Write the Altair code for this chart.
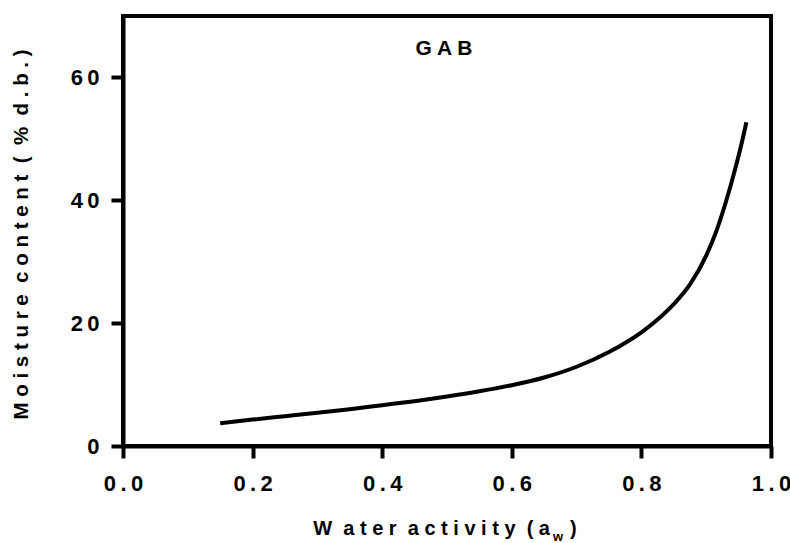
import altair as alt
import pandas as pd

# Data (GAB isotherm)
water_activity = [0.15, 0.2, 0.25, 0.3, 0.35, 0.4, 0.45, 0.5, 0.55, 0.6, 0.65,
                  0.7, 0.75, 0.8, 0.825, 0.85, 0.875, 0.9, 0.915, 0.93, 0.945,
                  0.955, 0.962]
moisture = [3.7, 4.3, 4.85, 5.4, 6.0, 6.65, 7.3, 8.05, 8.9, 9.9, 11.15,
            12.9, 15.3, 18.5, 20.6, 23.1, 26.3, 31.0, 34.8, 39.6, 45.2,
            49.4, 52.7]

x_ticks = [0.0, 0.2, 0.4, 0.6, 0.8, 1.0]
y_ticks = [0, 20, 40, 60]

model_label = "G A B"
y_title = "M o i s t u r e\u00a0 c o n t e n t\u00a0 (\u00a0 %\u00a0 d . b . )"
x_title_main = "W\u00a0 a t e r\u00a0 a c t i v i t y\u00a0 ( a"
x_title_sub = "w"
x_title_end = ")"

df = pd.DataFrame({"aw": water_activity, "m": moisture})

FONT = "Liberation Sans"
W, H = 648, 430

spaced = "join(split(datum.label, ''), '\u2009')"

line = alt.Chart(df).mark_line(color="black", strokeWidth=4, interpolate="monotone").encode(
    x=alt.X("aw:Q",
            scale=alt.Scale(domain=[0, 1.0], nice=False, zero=False),
            axis=alt.Axis(values=x_ticks, format=".1f", labelExpr=spaced, title=None,
                          grid=False, domainColor="black", domainWidth=4,
                          tickColor="black", tickWidth=4, tickSize=12,
                          labelFlush=False, labelOverlap=False,
                          labelFont=FONT, labelFontSize=22, labelFontWeight="bold",
                          labelColor="black", labelPadding=15)),
    y=alt.Y("m:Q",
            scale=alt.Scale(domain=[0, 70], nice=False),
            axis=alt.Axis(values=y_ticks, format="d", labelExpr=spaced, title=y_title,
                          grid=False, domainColor="black", domainWidth=4,
                          tickColor="black", tickWidth=4, tickSize=12,
                          labelFlush=False, labelOverlap=False,
                          labelFont=FONT, labelFontSize=22, labelFontWeight="bold",
                          labelColor="black", labelPadding=12,
                          titleFont=FONT, titleFontSize=20.5, titleFontWeight="bold",
                          titleColor="black", titleX=-96, titleY=218,
                          titleAlign="center", titleBaseline="alphabetic", titleAngle=270)),
)

label = alt.Chart(pd.DataFrame({"t": [model_label]})).mark_text(
    font=FONT, fontSize=21, fontWeight="bold", color="black",
    align="center", baseline="alphabetic").encode(
    text="t:N", x=alt.value(321), y=alt.value(39))

xt_main = alt.Chart(pd.DataFrame({"t": [x_title_main]})).mark_text(
    font=FONT, fontSize=20, fontWeight="bold", color="black",
    align="right", baseline="alphabetic").encode(
    text="t:N", x=alt.value(427), y=alt.value(519))

xt_sub = alt.Chart(pd.DataFrame({"t": [x_title_sub]})).mark_text(
    font=FONT, fontSize=13, fontWeight="bold", color="black",
    align="left", baseline="alphabetic").encode(
    text="t:N", x=alt.value(430), y=alt.value(525))

xt_end = alt.Chart(pd.DataFrame({"t": [x_title_end]})).mark_text(
    font=FONT, fontSize=20, fontWeight="bold", color="black",
    align="left", baseline="alphabetic").encode(
    text="t:N", x=alt.value(447), y=alt.value(519))

chart = alt.layer(line, label, xt_main, xt_sub, xt_end).properties(
    width=W, height=H,
    autosize=alt.AutoSizeParams(type="none"),
    padding={"left": 123, "top": 16, "right": 790 - 123 - W, "bottom": 543 - 16 - H},
    background="white",
).configure_view(stroke="black", strokeWidth=4)

chart.save("out.html", embed_options={"renderer": "svg", "actions": False})
